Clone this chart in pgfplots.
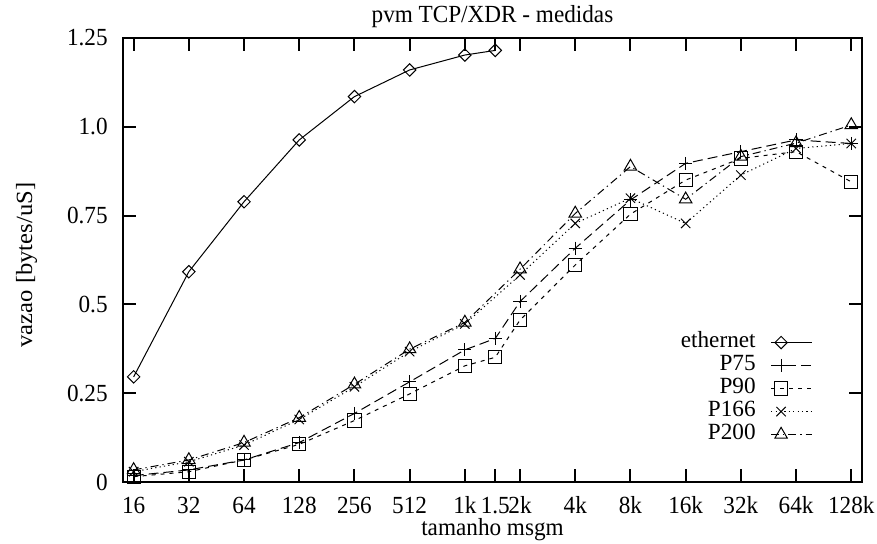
\documentclass[border=0pt]{standalone}
\usepackage{pgfplots}
\pgfplotsset{compat=1.18}
\usepackage{fontspec}
\setmainfont{Liberation Serif}

\begin{document}
\begin{tikzpicture}[font=\fontsize{11.6}{14}\selectfont]
\begin{axis}[
  scale only axis, width=369.5pt, height=222pt,
  xmode=log, log basis x=2,
  xmin=14, xmax=150000, ymin=0, ymax=1.25,
  xtick={16,32,64,128,256,512,1024,1500,2048,4096,8192,16384,32768,65536,131072},
  xticklabels={16,32,64,128,256,512,1k,1.5,2k,4k,8k,16k,32k,64k,128k},
  ytick={0,0.25,0.5,0.75,1,1.25},
  yticklabels={0,0.25,0.5,0.75,1.0,1.25},
  xminorticks=false, yminorticks=false,
  tick align=inside, xtick pos=both, ytick pos=both,
  major tick length=6.5pt,
  every tick/.style={line width=1pt, black},
  axis line style={line width=1.2pt},
  /pgf/number format/assume math mode=true,
  every x tick label/.style={anchor=base, yshift=-16pt, inner sep=0pt, yscale=1.06},
  every y tick label/.style={anchor=east, xshift=-7.5pt, inner sep=0pt, yscale=1.06},
  title={pvm TCP/XDR - medidas},
  every axis title/.style={at={(axis description cs:0.5,1)}, anchor=base, yshift=7.5pt, inner sep=0pt, yscale=1.06},
  xlabel={tamanho msgm},
  every axis x label/.style={at={(axis description cs:0.5,0)}, anchor=base, yshift=-27pt, inner sep=0pt, yscale=1.06},
  ylabel={vazao [bytes/uS]},
  every axis y label/.style={at={(axis description cs:-0.1231,0.4887)}, anchor=base, rotate=90, inner sep=0pt, xscale=1.06},
  legend plot pos=right,
  legend cell align=right,
  legend style={at={(axis description cs:0.9337,0.080)}, anchor=south east,
    draw=none, fill=none, inner sep=0pt, column sep=7.5pt, row sep=0pt,
    nodes={inner sep=0pt, text height=8pt, text depth=3.5pt}},
  legend image code/.code={%
    \draw[mark repeat=2,mark phase=2] plot coordinates {(0pt,0pt) (5pt,0pt) (20.5pt,0pt)};},
]
\coordinate (bl) at (rel axis cs:0,0);

% ethernet
\addplot[black, line width=0.5pt, mark=square, mark size=2.2pt, mark options={solid, rotate=45}]
  coordinates {(16,0.296) (32,0.592) (64,0.789) (128,0.963) (256,1.085) (512,1.160) (1024,1.202) (1500,1.215)};
\addlegendentry{ethernet}

% P75
\addplot[black, line width=0.5pt, dash pattern=on 5pt off 2.5pt, mark=+, mark size=3.3pt, mark options={solid}]
  coordinates {(16,0.018) (32,0.034) (64,0.062) (128,0.111) (256,0.193) (512,0.282) (1024,0.372) (1500,0.404)
               (2048,0.508) (4096,0.658) (8192,0.794) (16384,0.897) (32768,0.930) (65536,0.963) (131072,0.953)};
\addlegendentry{P75}

% P90
\addplot[black, line width=0.5pt, dash pattern=on 2pt off 2.5pt, mark=square, mark size=3.3pt, mark options={solid}]
  coordinates {(16,0.015) (32,0.029) (64,0.062) (128,0.106) (256,0.173) (512,0.248) (1024,0.327) (1500,0.351)
               (2048,0.456) (4096,0.611) (8192,0.754) (16384,0.850) (32768,0.911) (65536,0.930) (131072,0.845)};
\addlegendentry{P90}

% P166
\addplot[black, line width=0.5pt, dash pattern=on 0.6pt off 1.6pt, mark=x, mark size=3.3pt, mark options={solid}]
  coordinates {(16,0.029) (32,0.057) (64,0.104) (128,0.176) (256,0.268) (512,0.367) (1024,0.445)
               (2048,0.583) (4096,0.728) (8192,0.799) (16384,0.728) (32768,0.864) (65536,0.939) (131072,0.953)};
\addlegendentry{P166}

% P200
\addplot[black, line width=0.5pt, dash pattern=on 4pt off 2pt on 0.6pt off 2pt, mark=triangle, mark size=3.6pt, mark options={solid}]
  coordinates {(16,0.034) (32,0.062) (64,0.111) (128,0.181) (256,0.275) (512,0.374) (1024,0.449)
               (2048,0.599) (4096,0.756) (8192,0.888) (16384,0.796) (32768,0.916) (65536,0.954) (131072,1.005)};
\addlegendentry{P200}
\end{axis}
\pgfresetboundingbox
\path (bl) ++(-61.5pt,-31pt) rectangle ++(438.5pt,272pt);
\end{tikzpicture}
\end{document}
